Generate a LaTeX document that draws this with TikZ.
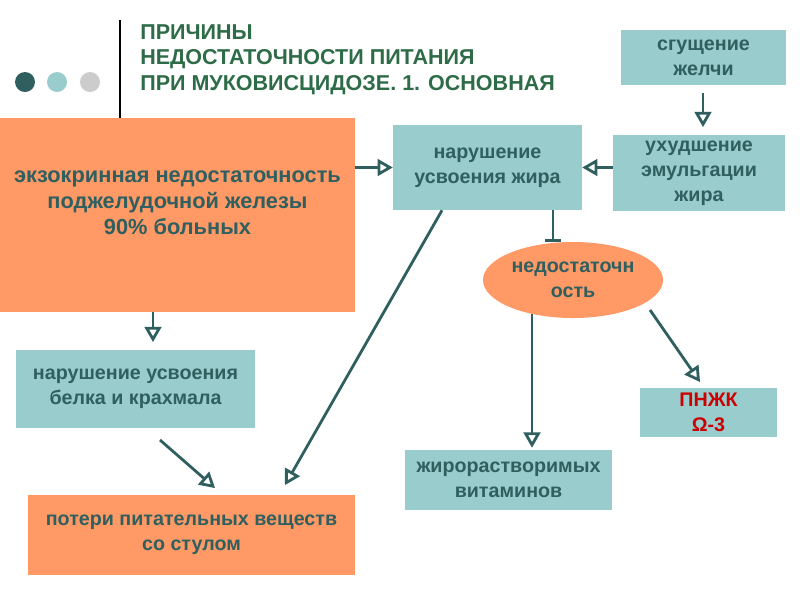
\documentclass[tikz,border=0pt]{standalone}
\usepackage{fontspec}
\setmainfont{Liberation Sans}
\usetikzlibrary{arrows,shapes.geometric}
\definecolor{tealbox}{HTML}{99CCCC}
\definecolor{orangebox}{HTML}{FF9966}
\definecolor{darkteal}{HTML}{2F5F5E}
\definecolor{titlegreen}{HTML}{2E6B47}
\definecolor{pufared}{HTML}{CC0000}

\tikzset{
  tbox/.style={rectangle, fill=tealbox, inner sep=0pt, align=center,
    text=darkteal, font=\bfseries\fontsize{14}{17.8}\selectfont},
  obox/.style={tbox, fill=orangebox},
  lnk/.style={draw=darkteal, line width=2pt, -open triangle 60},
}

\begin{document}
\begin{tikzpicture}[x=0.025cm, y=-0.025cm]
\useasboundingbox (0,0) rectangle (800,600);
%\draw[help lines] (0,0) grid[step=50] (800,600);

% title
\draw[line width=2pt] (120,20) -- (120,118);
\fill[darkteal] (25,82) circle (10);
\fill[tealbox] (57,82) circle (10);
\fill[black!20] (90,82) circle (10);
\node[anchor=north west, align=left, text=titlegreen, inner sep=0pt,
  font=\bfseries\fontsize{15.3}{18.3}\selectfont] (title) at (140,24)
  {ПРИЧИНЫ\\НЕДОСТАТОЧНОСТИ ПИТАНИЯ\\ПРИ МУКОВИСЦИДОЗЕ. 1. ОСНОВНАЯ};

% boxes
\node[obox, minimum width=8.875cm, minimum height=4.85cm] (exo) at (177.5,215) {};
\node[tbox, fill=none, font=\bfseries\fontsize{15.5}{18.5}\selectfont] (exotext) at (177.5,203)
  {экзокринная недостаточность\\поджелудочной железы\\90\% больных};
\node[tbox, minimum width=4.725cm, minimum height=2.125cm] (fat) at (487.5,167.5)
  {нарушение\\усвоения жира};
\node[tbox, minimum width=4.125cm, minimum height=1.375cm] (bile) at (703.5,57.5)
  {сгущение\\желчи};
\node[tbox, minimum width=4.3cm, minimum height=1.9cm] (emul) at (699,173)
  {ухудшение\\эмульгации\\жира};
\node[tbox, ellipse, fill=orangebox, minimum width=4.5cm, minimum height=1.9cm] (lack) at (573,280)
  {недостаточн\\ость};
\node[tbox, minimum width=5.975cm, minimum height=1.95cm] (prot) at (135.5,389)
  {нарушение усвоения\\белка и крахмала};
\node[tbox, minimum width=3.425cm, minimum height=1.225cm, text=pufared] (pufa) at (708.5,412.5)
  {ПНЖК\\Ω-3};
\node[tbox, minimum width=5.175cm, minimum height=1.5cm] (vit) at (508.5,480)
  {жирорастворимых\\витаминов};
\node[obox, minimum width=8.175cm, minimum height=2cm] (loss) at (191.5,535)
  {потери питательных веществ\\со стулом};

% links
\draw[lnk] (exo.east |- fat) -- (fat.west);
\draw[lnk] (emul.west |- fat) -- (fat.east);
\draw[lnk] (bile.south -| 703,0) ++(0,8) coordinate (b1) -- ([yshift=5.5]emul.north -| b1);
\draw[lnk, -|] (fat.south -| 553,0) -- (lack.north -| 553,0);
\draw[lnk] (exo.south -| 153,0) -- ([yshift=5.5]prot.north -| 153,0);
\draw[lnk] (160,440) -- (215,488);
\draw[lnk] (fat.south -| 442,0) -- (285,485);
\draw[lnk] (532,314) -- ([yshift=1.5]vit.north -| 532,0);
\draw[lnk] (650,310) -- (700,382);
\end{tikzpicture}
\end{document}
